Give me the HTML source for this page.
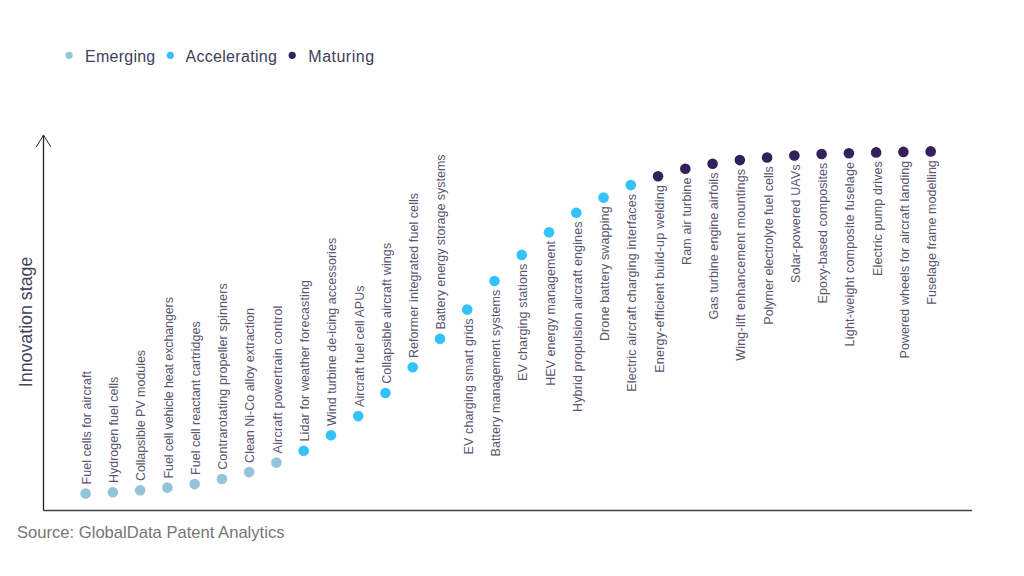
<!DOCTYPE html>
<html><head><meta charset="utf-8"><style>
html,body{margin:0;padding:0;background:#fff;width:1024px;height:576px;overflow:hidden}
svg{display:block;font-variant-ligatures:none;font-feature-settings:"liga" 0,"clig" 0}
.lab text{font-family:"Liberation Sans",sans-serif;font-size:12.5px;fill:#5a566e}
</style></head><body>
<svg width="1024" height="576" viewBox="0 0 1024 576">
<g font-family="Liberation Sans, sans-serif">
<circle cx="69.1" cy="55.3" r="3.6" fill="#93c4d9"/>
<text x="85" y="62.3" font-size="16" letter-spacing="0.25" fill="#40405a">Emerging</text>
<circle cx="170.3" cy="55.3" r="3.6" fill="#34c2fb"/>
<text x="185.5" y="62.3" font-size="16" letter-spacing="0.3" fill="#40405a">Accelerating</text>
<circle cx="292.2" cy="55.3" r="3.6" fill="#32215a"/>
<text x="308.3" y="62.3" font-size="16" letter-spacing="0.5" fill="#40405a">Maturing</text>
<text transform="translate(31.9,387.2) rotate(-90)" font-size="17.8" fill="#45455a">Innovation stage</text>
<text x="17" y="537.7" font-size="16.6" fill="#767676">Source: GlobalData Patent Analytics</text>
</g>
<path d="M43.5 510.5 V135.3" stroke="#222" stroke-width="1.3" fill="none"/>
<path d="M36.3 146.9 L43.5 135.1 L50.8 146.9" stroke="#222" stroke-width="1" fill="none"/>
<path d="M43.5 510.5 H972.2" stroke="#464646" stroke-width="1.4" fill="none"/>
<g class="lab">
<circle cx="85.60" cy="493.60" r="5.3" fill="#93c4d9"/>
<text transform="translate(90.90,484.40) rotate(-90)" text-anchor="start" textLength="113.28" lengthAdjust="spacing">Fuel cells for aircraft</text>
<circle cx="112.86" cy="492.30" r="5.3" fill="#93c4d9"/>
<text transform="translate(118.16,483.10) rotate(-90)" text-anchor="start">Hydrogen fuel cells</text>
<circle cx="140.12" cy="490.30" r="5.3" fill="#93c4d9"/>
<text transform="translate(145.42,481.10) rotate(-90)" text-anchor="start" textLength="131.22" lengthAdjust="spacing">Collapsible PV modules</text>
<circle cx="167.38" cy="487.60" r="5.3" fill="#93c4d9"/>
<text transform="translate(172.68,478.40) rotate(-90)" text-anchor="start" textLength="181.33" lengthAdjust="spacing">Fuel cell vehicle heat exchangers</text>
<circle cx="194.64" cy="484.10" r="5.3" fill="#93c4d9"/>
<text transform="translate(199.94,474.90) rotate(-90)" text-anchor="start">Fuel cell reactant cartridges</text>
<circle cx="221.90" cy="479.00" r="5.3" fill="#93c4d9"/>
<text transform="translate(227.20,469.80) rotate(-90)" text-anchor="start" textLength="186.55" lengthAdjust="spacing">Contrarotating propeller spinners</text>
<circle cx="249.16" cy="472.10" r="5.3" fill="#93c4d9"/>
<text transform="translate(254.46,462.90) rotate(-90)" text-anchor="start">Clean Ni-Co alloy extraction</text>
<circle cx="276.42" cy="462.60" r="5.3" fill="#93c4d9"/>
<text transform="translate(281.72,453.40) rotate(-90)" text-anchor="start" textLength="147.72" lengthAdjust="spacing">Aircraft powertrain control</text>
<circle cx="303.68" cy="450.70" r="5.3" fill="#34c2fb"/>
<text transform="translate(308.98,441.50) rotate(-90)" text-anchor="start" textLength="161.42" lengthAdjust="spacing">Lidar for weather forecasting</text>
<circle cx="330.94" cy="435.20" r="5.3" fill="#34c2fb"/>
<text transform="translate(336.24,426.00) rotate(-90)" text-anchor="start" textLength="188.19" lengthAdjust="spacing">Wind turbine de-icing accessories</text>
<circle cx="358.20" cy="416.10" r="5.3" fill="#34c2fb"/>
<text transform="translate(363.50,406.90) rotate(-90)" text-anchor="start" textLength="121.49" lengthAdjust="spacing">Aircraft fuel cell APUs</text>
<circle cx="385.46" cy="393.00" r="5.3" fill="#34c2fb"/>
<text transform="translate(390.76,383.80) rotate(-90)" text-anchor="start" textLength="140.97" lengthAdjust="spacing">Collapsible aircraft wings</text>
<circle cx="412.72" cy="367.30" r="5.3" fill="#34c2fb"/>
<text transform="translate(418.02,358.10) rotate(-90)" text-anchor="start" textLength="165.18" lengthAdjust="spacing">Reformer integrated fuel cells</text>
<circle cx="439.98" cy="338.80" r="5.3" fill="#34c2fb"/>
<text transform="translate(445.28,329.60) rotate(-90)" text-anchor="start" textLength="175.18" lengthAdjust="spacing">Battery energy storage systems</text>
<circle cx="467.24" cy="309.60" r="5.3" fill="#34c2fb"/>
<text transform="translate(472.84,318.40) rotate(-90)" text-anchor="end" textLength="136.09" lengthAdjust="spacing">EV charging smart grids</text>
<circle cx="494.50" cy="281.00" r="5.3" fill="#34c2fb"/>
<text transform="translate(500.10,289.80) rotate(-90)" text-anchor="end" textLength="166.66" lengthAdjust="spacing">Battery management systems</text>
<circle cx="521.76" cy="254.90" r="5.3" fill="#34c2fb"/>
<text transform="translate(527.36,263.70) rotate(-90)" text-anchor="end" textLength="117.26" lengthAdjust="spacing">EV charging stations</text>
<circle cx="549.02" cy="232.30" r="5.3" fill="#34c2fb"/>
<text transform="translate(554.62,241.10) rotate(-90)" text-anchor="end" textLength="144.74" lengthAdjust="spacing">HEV energy management</text>
<circle cx="576.28" cy="212.70" r="5.3" fill="#34c2fb"/>
<text transform="translate(581.88,221.50) rotate(-90)" text-anchor="end" textLength="190.42" lengthAdjust="spacing">Hybrid propulsion aircraft engines</text>
<circle cx="603.54" cy="197.60" r="5.3" fill="#34c2fb"/>
<text transform="translate(609.14,206.40) rotate(-90)" text-anchor="end" textLength="134.73" lengthAdjust="spacing">Drone battery swapping</text>
<circle cx="630.80" cy="185.10" r="5.3" fill="#34c2fb"/>
<text transform="translate(636.40,193.90) rotate(-90)" text-anchor="end" textLength="197.85" lengthAdjust="spacing">Electric aircraft charging interfaces</text>
<circle cx="658.06" cy="176.30" r="5.3" fill="#32215a"/>
<text transform="translate(663.66,185.10) rotate(-90)" text-anchor="end" textLength="187.64" lengthAdjust="spacing">Energy-efficient build-up welding</text>
<circle cx="685.32" cy="168.80" r="5.3" fill="#32215a"/>
<text transform="translate(690.92,177.60) rotate(-90)" text-anchor="end" textLength="87.35" lengthAdjust="spacing">Ram air turbine</text>
<circle cx="712.58" cy="163.80" r="5.3" fill="#32215a"/>
<text transform="translate(718.18,172.60) rotate(-90)" text-anchor="end" textLength="146.93" lengthAdjust="spacing">Gas turbine engine airfoils</text>
<circle cx="739.84" cy="160.10" r="5.3" fill="#32215a"/>
<text transform="translate(745.44,168.90) rotate(-90)" text-anchor="end" textLength="191.92" lengthAdjust="spacing">Wing-lift enhancement mountings</text>
<circle cx="767.10" cy="157.50" r="5.3" fill="#32215a"/>
<text transform="translate(772.70,166.30) rotate(-90)" text-anchor="end">Polymer electrolyte fuel cells</text>
<circle cx="794.36" cy="155.50" r="5.3" fill="#32215a"/>
<text transform="translate(799.96,164.30) rotate(-90)" text-anchor="end" textLength="118.60" lengthAdjust="spacing">Solar-powered UAVs</text>
<circle cx="821.62" cy="154.00" r="5.3" fill="#32215a"/>
<text transform="translate(827.22,162.80) rotate(-90)" text-anchor="end" textLength="140.66" lengthAdjust="spacing">Epoxy-based composites</text>
<circle cx="848.88" cy="153.20" r="5.3" fill="#32215a"/>
<text transform="translate(854.48,162.00) rotate(-90)" text-anchor="end" textLength="184.38" lengthAdjust="spacing">Light-weight composite fuselage</text>
<circle cx="876.14" cy="152.40" r="5.3" fill="#32215a"/>
<text transform="translate(881.74,161.20) rotate(-90)" text-anchor="end" textLength="114.75" lengthAdjust="spacing">Electric pump drives</text>
<circle cx="903.40" cy="151.90" r="5.3" fill="#32215a"/>
<text transform="translate(909.00,160.70) rotate(-90)" text-anchor="end" textLength="197.85" lengthAdjust="spacing">Powered wheels for aircraft landing</text>
<circle cx="930.66" cy="151.40" r="5.3" fill="#32215a"/>
<text transform="translate(936.26,160.20) rotate(-90)" text-anchor="end" textLength="144.53" lengthAdjust="spacing">Fuselage frame modelling</text>
</g>
</svg>
</body></html>
